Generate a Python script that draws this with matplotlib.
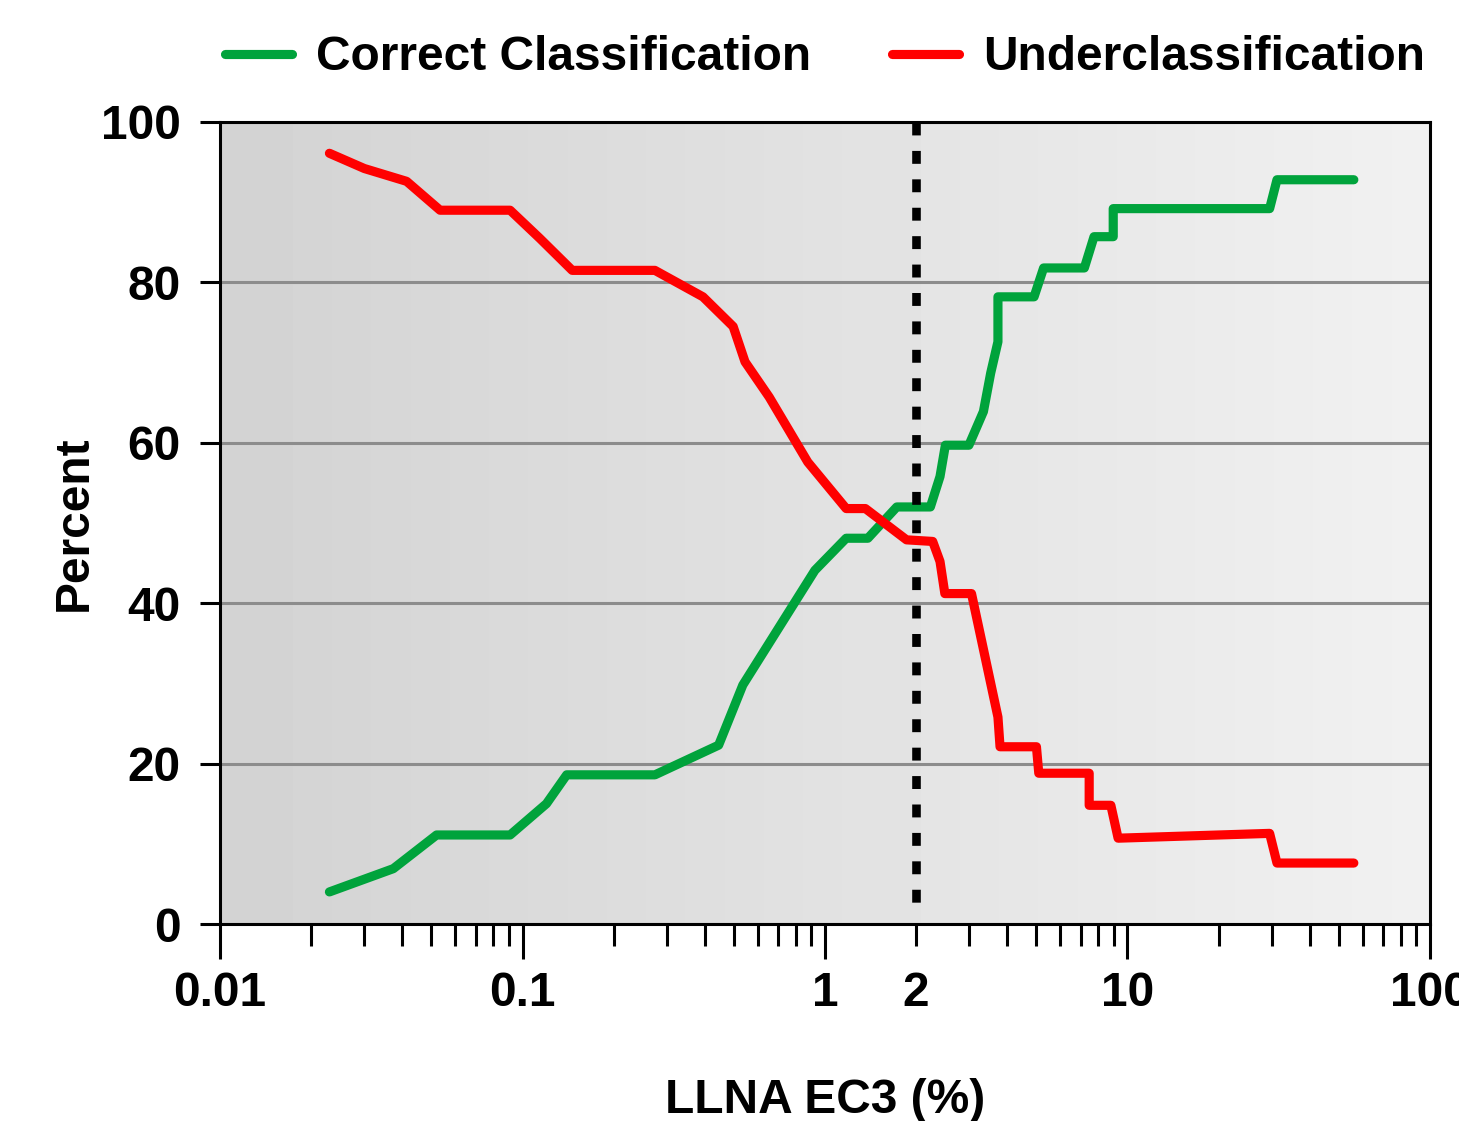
import numpy as np
import matplotlib
matplotlib.use("Agg")
import matplotlib.pyplot as plt
from matplotlib.lines import Line2D
from matplotlib.ticker import FixedLocator, FixedFormatter, FuncFormatter

# values (EC3 in %, y in percent)
threshold = 2

correct_x = [0.023, 0.0374, 0.052, 0.091, 0.120, 0.140, 0.274, 0.445, 0.535, 0.926,
             1.175, 1.386, 1.727, 2.23, 2.40, 2.50, 2.99, 3.34, 3.53, 3.73, 3.73,
             4.91, 5.28, 7.20, 7.75, 8.97, 8.97, 29.5, 31.2, 56.0]
correct_y = [4.0, 6.9, 11.1, 11.1, 15.0, 18.6, 18.6, 22.3, 29.8, 44.1,
             48.1, 48.1, 52.0, 52.0, 55.8, 59.7, 59.7, 63.9, 68.7, 72.6, 78.2,
             78.2, 81.8, 81.8, 85.7, 85.7, 89.2, 89.2, 92.8, 92.8]

under_x = [0.023, 0.030, 0.0414, 0.0534, 0.091, 0.114, 0.146, 0.274, 0.395, 0.497,
           0.544, 0.654, 0.877, 1.175, 1.36, 1.86, 2.27, 2.40, 2.49, 3.05, 3.73,
           3.79, 5.0, 5.09, 7.47, 7.47, 8.81, 9.31, 29.5, 31.2, 56.0]
under_y = [96.1, 94.2, 92.6, 89.0, 89.0, 85.5, 81.5, 81.5, 78.2, 74.5,
           70.1, 65.7, 57.6, 51.8, 51.8, 47.9, 47.7, 45.2, 41.2, 41.2, 25.8,
           22.1, 22.1, 18.8, 18.8, 14.8, 14.8, 10.7, 11.3, 7.6, 7.6]

series_labels = ["Correct Classification", "Underclassification"]
x_major = [0.01, 0.1, 1, 10, 100]
x_major_labels = ["0.01", "0.1", "1", "10", "100"]
x_extra_tick = 2
x_extra_label = "2"
y_ticks = [0, 20, 40, 60, 80, 100]

green = "#00a33c"
red = "#ff0000"
fs = 34.5
lw = 6.6

plt.rcParams['font.family'] = ['Liberation Sans', 'DejaVu Sans']
plt.rcParams['font.weight'] = 'bold'

fig = plt.figure(figsize=(14.59, 11.21), dpi=100)
ax = fig.add_axes([220/1459, 197/1121, 1210/1459, 802/1121])

# grey gradient background, darker at the left
grad = np.linspace(0.825, 0.945, 256).reshape(1, -1)
ax.imshow(grad, cmap='gray', vmin=0, vmax=1, extent=[0, 1, 0, 1],
          transform=ax.transAxes, aspect='auto', zorder=0, interpolation='bilinear')

ax.set_xscale('log')
ax.set_xlim(0.01, 100)
ax.set_ylim(0, 100)

ax.yaxis.grid(True, color='#8c8c8c', lw=2.2)
ax.set_axisbelow(True)

ax.plot(correct_x, correct_y, color=green, lw=lw, solid_capstyle='round', zorder=3)
ax.plot(under_x, under_y, color=red, lw=lw, solid_capstyle='round', zorder=3)
ax.plot([threshold, threshold], [100, 2], color='black', lw=6.2,
        dashes=(1.5, 1.8), dash_capstyle='butt', zorder=4)

# ticks
ax.set_yticks(y_ticks)
ax.xaxis.set_major_locator(FixedLocator(x_major))
ax.xaxis.set_major_formatter(FixedFormatter(x_major_labels))
minors = [k * 10.0 ** d for d in range(-2, 2) for k in range(2, 10)]
ax.xaxis.set_minor_locator(FixedLocator(minors))
ax.xaxis.set_minor_formatter(FuncFormatter(
    lambda v, p: x_extra_label if abs(v - x_extra_tick) < 1e-9 else ""))

ax.tick_params(axis='y', which='major', direction='out', length=14.4, width=2.2,
               pad=14, labelsize=fs)
ax.tick_params(axis='x', which='major', direction='out', length=25, width=2.2,
               pad=9, labelsize=fs)
ax.tick_params(axis='x', which='minor', direction='out', length=16, width=2.2,
               pad=9 + 9, labelsize=fs)
for lab in ax.get_xticklabels(which='both') + ax.get_yticklabels():
    lab.set_fontweight('bold')

for s in ax.spines.values():
    s.set_linewidth(2.2)
    s.set_color('black')
    s.set_zorder(5)

ax.set_xlabel("LLNA EC3 (%)", fontsize=fs, fontweight='bold')
ax.xaxis.set_label_coords(0.5, -0.192)
ax.set_ylabel("Percent", fontsize=fs, fontweight='bold')
ax.yaxis.set_label_coords(-0.102, 0.5)

handles = [Line2D([], [], color=green, lw=lw, solid_capstyle='round'),
           Line2D([], [], color=red, lw=lw, solid_capstyle='round')]
fig.legend(handles, series_labels, loc='center', bbox_to_anchor=(825/1459, 1 - 58/1121),
           ncol=2, frameon=False, handlelength=1.4, handletextpad=0.5,
           columnspacing=1.7, prop={'size': fs, 'weight': 'bold'})

fig.savefig("out.png", dpi=100)
